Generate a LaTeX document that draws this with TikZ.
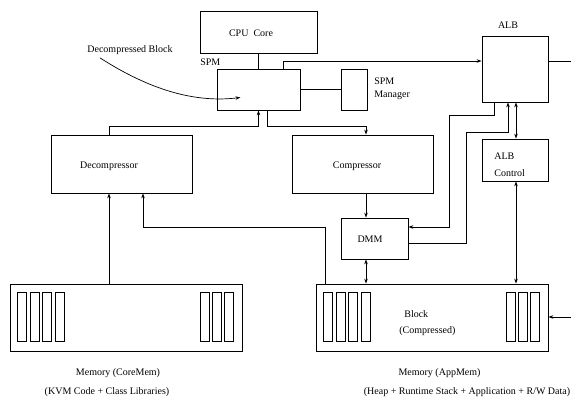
\documentclass[tikz,border=0pt]{standalone}
\usepackage{fontspec}
\setmainfont{Liberation Serif}
\usetikzlibrary{arrows.meta}

\begin{document}
\begin{tikzpicture}[
    x=1pt, y=-1pt,
    font=\fontsize{10}{12}\selectfont,
    line width=0.7pt,
    unit/.style={rectangle, draw, line width=0.8pt, inner sep=0pt},
    caption/.style={inner sep=0pt},
    bar/.style={line width=0.7pt},
    conn/.style={-{Stealth[length=5pt,width=3.5pt]}},
    biconn/.style={{Stealth[length=5pt,width=3.5pt]}-{Stealth[length=5pt,width=3.5pt]}},
  ]
  \useasboundingbox (0,0) rectangle (571,399);

  % Bend points and columns
  \coordinate (albIn)    at (283,61);
  \coordinate (albOut)   at (571,61);
  \coordinate (dTurn)    at (109,126);
  \coordinate (cTurn)    at (267,126);
  \coordinate (colC)     at (366,0);
  \coordinate (colA)     at (516,0);
  \coordinate (backTurn) at (325,227);
  \coordinate (backIn)   at (143,227);
  \coordinate (albDown)  at (494,115);
  \coordinate (dmmIn)    at (449,227);
  \coordinate (dmmOut)   at (466,243);
  \coordinate (albUp)    at (508,132);
  \coordinate (memIn)    at (571,317);

  % TOP: CPU, SPM, ALB
  \node[unit, minimum width=117, minimum height=42] (cpu) at (258.5,32) {};
  \node[caption] (cpuText) at (251,33) {CPU~~Core};
  \node[unit, minimum width=83, minimum height=41] (spm) at (258.5,89.5) {};
  \node[caption, anchor=west] (spmText) at (200,62) {SPM};
  \node[unit, minimum width=26, minimum height=41] (spmmgr) at (354,89.5) {};
  \node[caption, anchor=west, align=left, font=\fontsize{10}{13}\selectfont] (spmmgrText) at (374,88.5) {SPM\\Manager};
  \node[unit, minimum width=66, minimum height=66] (alb) at (515,69) {};
  \node[caption] (albText) at (508,25) {ALB};
  \node[unit, minimum width=66, minimum height=42] (albctl) at (515,160) {};
  \node[caption, anchor=west, align=left] (albctlText) at (494,164.5) {ALB\\[5pt]Control};
  \node[caption] (dblock) at (130,50) {Decompressed Block};

  % MIDDLE: Decompressor, Compressor, DMM
  \node[unit, minimum width=141, minimum height=58] (decomp) at (121.5,164) {};
  \node[caption] (decompText) at (109,166) {Decompressor};
  \node[unit, minimum width=141, minimum height=58] (comp) at (362.5,164) {};
  \node[caption] (compText) at (357,166) {Compressor};
  \node[unit, minimum width=67, minimum height=41] (dmm) at (374.5,238.5) {};
  \node[caption] (dmmText) at (370,239) {DMM};

  % BOTTOM: memories
  \node[unit, minimum width=232, minimum height=67] (coremem) at (126,317.5) {};
  \node[unit, minimum width=232, minimum height=67] (appmem) at (432,317.5) {};
  \foreach \m in {coremem, appmem} {
    \foreach \i in {0,...,3}
      \draw[bar] ([shift={(8+12.5*\i,9)}]\m.north west) rectangle ++(9,49);
    \foreach \i in {0,...,2}
      \draw[bar] ([shift={(190.5+12.3*\i,9)}]\m.north west) rectangle ++(9,49);
  }
  \node[caption, anchor=west] (blockText) at (404,314) {Block};
  \node[caption, anchor=west] (blockSub) at (399,331) {(Compressed)};
  \node[caption] (coreName) at (118,373) {Memory (CoreMem)};
  \node[caption] (coreSub) at (107,392) {(KVM Code + Class Libraries)};
  \node[caption] (appName) at (439.5,373) {Memory (AppMem)};
  \node[caption] (appSub) at (467,392) {(Heap + Runtime Stack + Application + R/W Data)};

  % Connectors
  \draw (cpu.south) -- (spm.north);
  \draw[conn] (spm.north -| albIn) |- (alb.west |- albIn);
  \draw (alb.east |- albOut) -- (albOut);
  \draw (spm.east) -- (spmmgr.west);
  \draw[conn] (decomp.north -| dTurn) |- (spm.south |- dTurn) -- (spm.south);
  \draw[conn] (spm.south -| cTurn) |- (colC |- cTurn) -- (comp.north -| colC);
  \draw[conn] (coremem.north -| dTurn) -- (decomp.south -| dTurn);
  \draw[conn] (appmem.north -| backTurn) -- (backTurn) -- (backIn) -- (decomp.south -| backIn);
  \draw[conn] (comp.south -| colC) -- (dmm.north -| colC);
  \draw[biconn] (dmm.south -| colC) -- (appmem.north -| colC);
  \draw[conn] (alb.south -| albDown) -- (albDown) -| (dmmIn) -- (dmm.east |- dmmIn);
  \draw[conn] (dmm.east |- dmmOut) -- (dmmOut) |- (albUp) -- (alb.south -| albUp);
  \draw[biconn] (alb.south -| colA) -- (albctl.north -| colA);
  \draw[biconn] (albctl.south -| colA) -- (appmem.north -| colA);
  \draw[conn] (memIn) -- (appmem.east |- memIn);
  \draw[conn] ([shift={(13,3)}]dblock.south west) .. controls (150,90) and (195,103) .. ([shift={(-18,8)}]spm.center);

\end{tikzpicture}
\end{document}
